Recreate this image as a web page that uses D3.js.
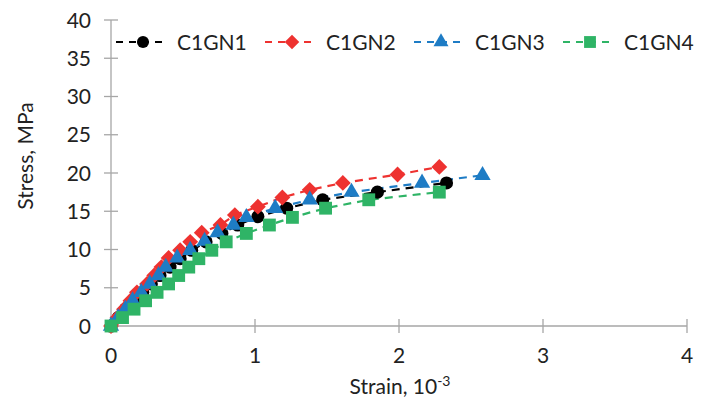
<!DOCTYPE html>
<html><head><meta charset="utf-8">
<script src="https://cdn.jsdelivr.net/npm/d3@7"></script>
<style>
html,body{margin:0;padding:0;background:#fff;}
text{font-family:Lato,"Open Sans",sans-serif;fill:#222;}
</style></head>
<body><svg id="chart" width="710" height="404"></svg>
<script>
const seriesNames = ["C1GN1","C1GN2","C1GN3","C1GN4"];
const c1gn1Strain = [0,0.05,0.10,0.16,0.22,0.28,0.34,0.41,0.48,0.56,0.66,0.77,0.88,1.02,1.22,1.47,1.85,2.33];
const c1gn1Stress = [0,1.1,2.2,3.3,4.4,5.5,6.6,7.7,8.8,9.9,11.0,12.1,13.2,14.3,15.4,16.5,17.5,18.7];
const c1gn2Strain = [0,0.045,0.09,0.135,0.18,0.25,0.30,0.35,0.40,0.48,0.55,0.63,0.76,0.86,1.02,1.19,1.38,1.61,1.99,2.28];
const c1gn2Stress = [0,1.1,2.2,3.3,4.4,5.5,6.6,7.7,8.9,9.9,11.0,12.2,13.2,14.5,15.6,16.8,17.8,18.7,19.8,20.8];
const c1gn3Strain = [0,0.05,0.10,0.15,0.21,0.27,0.33,0.38,0.46,0.55,0.65,0.74,0.85,0.94,1.14,1.38,1.67,2.16,2.58];
const c1gn3Stress = [0,1.1,2.2,3.3,4.4,5.5,6.6,7.7,8.9,9.9,11.1,12.2,13.2,14.2,15.4,16.5,17.5,18.7,19.7];
const c1gn4Strain = [0,0.08,0.16,0.24,0.32,0.40,0.47,0.54,0.61,0.70,0.80,0.94,1.10,1.26,1.49,1.79,2.28];
const c1gn4Stress = [0,1.1,2.2,3.3,4.4,5.5,6.6,7.7,8.8,9.9,11.0,12.1,13.2,14.2,15.4,16.5,17.5];
const xTicks = [0,1,2,3,4];
const yTicks = [0,5,10,15,20,25,30,35,40];
const colors = ["#000000","#ee3230","#1e7cc5","#2fb466"];
const symbols = [d3.symbolCircle, d3.symbolSquare, d3.symbolTriangle, d3.symbolSquare];
const symRot = [0,45,0,0];
const symSizes = [135, 125, 115, 165];

const strains = [c1gn1Strain,c1gn2Strain,c1gn3Strain,c1gn4Strain];
const stresses = [c1gn1Stress,c1gn2Stress,c1gn3Stress,c1gn4Stress];
const series = seriesNames.map((n,i)=>({name:n, color:colors[i], sym:symbols[i], rot:symRot[i], size:symSizes[i],
  pts: strains[i].map((s,j)=>({x:s,y:stresses[i][j]}))}));

const svg = d3.select("#chart");
const x = d3.scaleLinear().domain([0,4]).range([111,687]);
const y = d3.scaleLinear().domain([0,40]).range([326,20]);
const axisColor = "#a6a6a6";

// axes
const gx = svg.append("g");
gx.append("line").attr("x1",x(0)).attr("x2",x(4)).attr("y1",y(0)).attr("y2",y(0)).attr("stroke",axisColor).attr("stroke-width",1.3);
gx.selectAll("line.t").data(xTicks).join("line").attr("class","t")
  .attr("x1",d=>x(d)).attr("x2",d=>x(d)).attr("y1",y(0)-7).attr("y2",y(0)+7).attr("stroke",axisColor).attr("stroke-width",1.3);
gx.selectAll("text").data(xTicks).join("text")
  .attr("x",d=>x(d)).attr("y",363).attr("text-anchor","middle").attr("font-size",21).text(d=>d);

const gy = svg.append("g");
gy.append("line").attr("x1",x(0)).attr("x2",x(0)).attr("y1",y(0)).attr("y2",y(40)).attr("stroke",axisColor).attr("stroke-width",1.3);
gy.selectAll("line.t").data(yTicks).join("line").attr("class","t")
  .attr("x1",x(0)-7).attr("x2",x(0)+7).attr("y1",d=>y(d)).attr("y2",d=>y(d)).attr("stroke",axisColor).attr("stroke-width",1.3);
gy.selectAll("text").data(yTicks).join("text")
  .attr("x",91).attr("y",d=>y(d)).attr("dy","0.36em").attr("text-anchor","end").attr("font-size",21).text(d=>d);

// axis titles
svg.append("text").attr("transform","translate(33,156) rotate(-90)").attr("text-anchor","middle").attr("font-size",21).text("Stress, MPa");
const xt = svg.append("text").attr("x",400).attr("y",394).attr("text-anchor","middle").attr("font-size",21);
xt.append("tspan").text("Strain, 10");
xt.append("tspan").attr("font-size",14).attr("dy",-8).text("-3");

// series
const line = d3.line().x(d=>x(d.x)).y(d=>y(d.y));
series.forEach(s=>{
  svg.append("path").datum(s.pts).attr("d",line).attr("fill","none").attr("stroke",s.color)
    .attr("stroke-width",2.2).attr("stroke-dasharray","8,6");
});
series.forEach(s=>{
  svg.append("g").selectAll("path").data(s.pts).join("path")
    .attr("transform",d=>`translate(${x(d.x)},${y(d.y)}) rotate(${s.rot})`)
    .attr("d",d3.symbol().type(s.sym).size(s.size)).attr("fill",s.color);
});

// legend
const lg = svg.append("g");
series.forEach((s,i)=>{
  const x0 = 116 + i*149, ly = 42;
  lg.append("line").attr("x1",x0).attr("x2",x0+50).attr("y1",ly).attr("y2",ly)
    .attr("stroke",s.color).attr("stroke-width",2.2).attr("stroke-dasharray","7,6");
  lg.append("path").attr("transform",`translate(${x0+27},${ly}) rotate(${s.rot})`)
    .attr("d",d3.symbol().type(s.sym).size(s.size*0.85)).attr("fill",s.color);
  lg.append("text").attr("x",x0+61).attr("y",ly).attr("dy","0.36em").attr("font-size",21).text(s.name);
});
</script></body></html>
